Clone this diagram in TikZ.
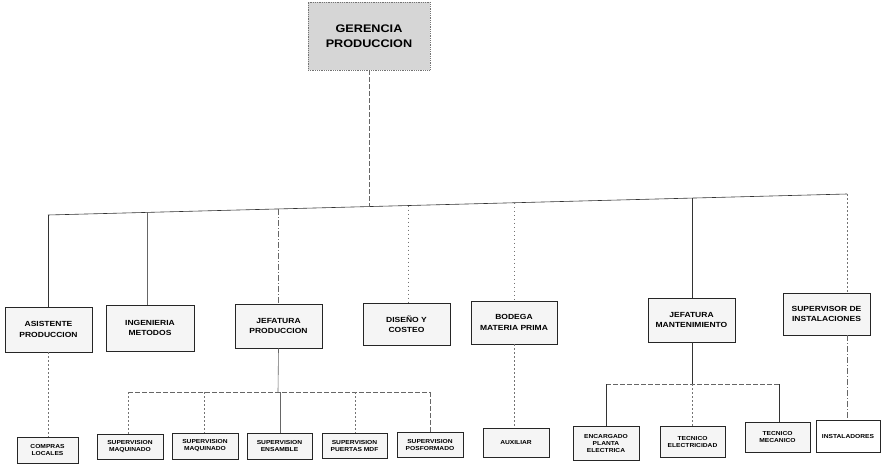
\documentclass[tikz,border=0pt]{standalone}
\usepackage{fontspec}
\newfontfamily\orgsf{Liberation Sans}[FakeStretch=1.15]
\begin{document}
\begin{tikzpicture}[x=1pt,y=-1pt,
  orgbox/.style={draw=black!85, line width=0.7pt, fill=black!4, inner sep=0pt,
    align=center, font=\orgsf\bfseries\fontsize{7.4}{10.5}\selectfont},
  smallbox/.style={orgbox, font=\orgsf\bfseries\fontsize{5.8}{7}\selectfont},
  headbox/.style={draw=black!55, densely dotted, line width=0.8pt, fill=black!16,
    inner sep=0pt, align=center, font=\orgsf\bfseries\fontsize{11}{15}\selectfont},
  solidlink/.style={draw=black!80, line width=0.6pt},
  dotlink/.style={draw=black!55, line width=0.6pt, dash pattern=on 1.5pt off 2.5pt},
  dashlink/.style={draw=black!60, line width=0.6pt, dash pattern=on 5pt off 2pt},
  dashdotlink/.style={draw=black!60, line width=0.6pt, dash pattern=on 6pt off 2pt on 1pt off 2pt}]
\useasboundingbox (0,0) rectangle (881,471);

% head of the chart
\node[headbox, minimum width=122, minimum height=68] (ger) at (369,36) {GERENCIA\\PRODUCCION};

% second level
\node[orgbox, minimum width=87, minimum height=45] (asis) at (48.5,329.5) {ASISTENTE\\PRODUCCION};
\node[orgbox, minimum width=88, minimum height=46] (inge) at (150,328) {INGENIERIA\\METODOS};
\node[orgbox, minimum width=87, minimum height=44] (jefp) at (278.5,326) {JEFATURA\\PRODUCCION};
\node[orgbox, minimum width=87, minimum height=42] (dise) at (406.5,324) {DISEÑO Y\\COSTEO};
\node[orgbox, minimum width=86, minimum height=43] (bode) at (514,322.5) {BODEGA\\MATERIA PRIMA};
\node[orgbox, minimum width=87, minimum height=44] (jefm) at (691.5,320) {JEFATURA\\MANTENIMIENTO};
\node[orgbox, minimum width=87, minimum height=42] (supi) at (826.5,314) {SUPERVISOR DE\\INSTALACIONES};

% third level
\node[smallbox, minimum width=61, minimum height=26] (comp) at (47.5,450) {COMPRAS\\LOCALES};
\node[smallbox, minimum width=66, minimum height=25] (sma) at (130,446.5) {SUPERVISION\\MAQUINADO};
\node[smallbox, minimum width=66, minimum height=26] (smb) at (205,446) {SUPERVISION\\MAQUINADO};
\node[smallbox, minimum width=65, minimum height=26] (sens) at (279.5,446) {SUPERVISION\\ENSAMBLE};
\node[smallbox, minimum width=65, minimum height=25] (spue) at (354.5,445.5) {SUPERVISION\\PUERTAS MDF};
\node[smallbox, minimum width=66, minimum height=25] (spos) at (430,444.5) {SUPERVISION\\POSFORMADO};
\node[smallbox, minimum width=66, minimum height=29] (aux) at (516,442.5) {AUXILIAR};
\node[smallbox, minimum width=66, minimum height=34] (enc) at (606,443) {ENCARGADO\\PLANTA\\ELECTRICA};
\node[smallbox, minimum width=65, minimum height=31] (tel) at (692.5,441.5) {TECNICO\\ELECTRICIDAD};
\node[smallbox, minimum width=65, minimum height=30] (tme) at (777.5,437) {TECNICO\\MECANICO};
\node[smallbox, fill=white, minimum width=64, minimum height=32] (ins) at (848,436) {INSTALADORES};

% main distribution bar
\coordinate (b1) at (48,215);
\coordinate (b2) at (147,212.4);
\coordinate (b3) at (278,209);
\coordinate (b0) at (369,206.6);
\coordinate (b4) at (408,205.5);
\coordinate (b5) at (514,202.8);
\coordinate (b6) at (692,198.1);
\coordinate (b7) at (847,194);
\draw[solidlink] (b1) -- (b7);
\draw[dashlink] (ger.south) -- (b0);
\draw[solidlink] (b1) -- (b1 |- asis.north);
\draw[solidlink, draw=black!60] (b2) -- (b2 |- inge.north);
\draw[dashdotlink] (b3) -- (b3 |- jefp.north);
\draw[dotlink] (b4) -- (b4 |- dise.north);
\draw[dotlink] (b5) -- (b5 |- bode.north);
\draw[solidlink] (b6) -- (b6 |- jefm.north);
\draw[dotlink] (b7) -- (b7 |- supi.north);

% production branch
\coordinate (p0) at (278,392);
\coordinate (p1) at (128,392);
\coordinate (p2) at (204,392);
\coordinate (p3) at (280,392);
\coordinate (p4) at (355,392);
\coordinate (p5) at (430,392);
\draw[solidlink, draw=black!60] (jefp.south) -- (p0);
\draw[dashlink] (p1) -- (p5);
\draw[dotlink] (p1) -- (p1 |- sma.north);
\draw[dotlink] (p2) -- (p2 |- smb.north);
\draw[solidlink, draw=black!60] (p3) -- (p3 |- sens.north);
\draw[dotlink] (p4) -- (p4 |- spue.north);
\draw[dashlink] (p5) -- (p5 |- spos.north);

% single links
\draw[dotlink] (b1 |- asis.south) -- (b1 |- comp.north);
\draw[dotlink] (b5 |- bode.south) -- (b5 |- aux.north);
\draw[dashdotlink] (b7 |- supi.south) -- (b7 |- ins.north);

% maintenance branch
\coordinate (m0) at (692,384);
\coordinate (m1) at (606,384);
\coordinate (m2) at (779,384);
\draw[solidlink] (jefm.south -| m0) -- (m0);
\draw[dashlink] (m1) -- (m2);
\draw[solidlink] (m1) -- (m1 |- enc.north);
\draw[dotlink] (m0) -- (m0 |- tel.north);
\draw[solidlink] (m2) -- (m2 |- tme.north);
\end{tikzpicture}
\end{document}
